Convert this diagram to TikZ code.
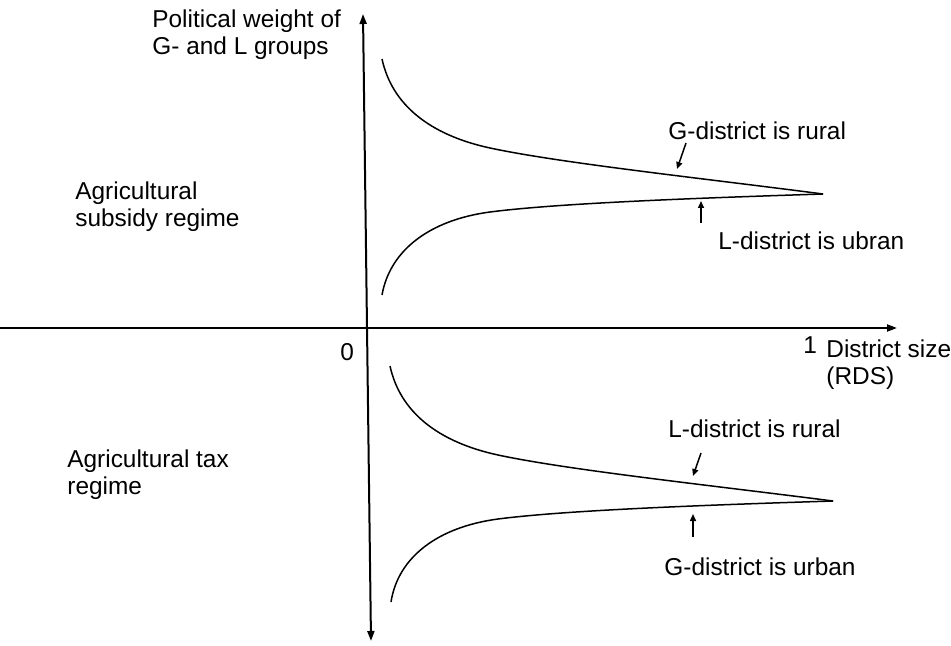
\documentclass[tikz,border=0pt]{standalone}
\usepackage{fontspec}
\setmainfont{Liberation Sans}
\usetikzlibrary{arrows.meta}
\begin{document}
\begin{tikzpicture}[x=0.5pt, y=-0.5pt,
  axis/.style={line width=1pt, -{Triangle[length=5pt,width=3.5pt]}},
  branch/.style={line width=0.75pt},
  pointer/.style={line width=0.75pt, -{Triangle[length=3.5pt,width=3pt]}},
  lbl/.style={inner sep=0pt, font=\fontsize{12.2}{13.7}\selectfont, align=left}]
\useasboundingbox (0,0) rectangle (951,646);

% axes
\coordinate (ybot) at (371,641);
\coordinate (ytop) at (363,14);
\coordinate (xleft) at (0,328);
\coordinate (xright) at (897,328);
\draw [axis, {Triangle[length=5pt,width=3.5pt]}-{Triangle[length=5pt,width=3.5pt]}] (ybot) -- (ytop);
\draw [axis] (xleft) -- (xright);

% subsidy regime branches
\draw [branch] (382,59) .. controls (392,105) and (430,135) .. (490,148)
  .. controls (560,163) and (700,178) .. (823,194);
\draw [branch] (382,295) .. controls (390,250) and (430,220) .. (490,212)
  .. controls (560,203) and (700,198) .. (823,194);

% tax regime branches
\draw [branch] (390,366) .. controls (400,412) and (438,442) .. (498,455)
  .. controls (568,470) and (708,485) .. (833,501);
\draw [branch] (391,602) .. controls (398,557) and (438,527) .. (498,519)
  .. controls (568,510) and (708,505) .. (833,501);

% labels
\node [lbl, anchor=north west] (ylabel) at (152,9.5) {Political weight of\\G- and L groups};
\node [lbl, anchor=north west] (subsidy) at (75,181.5) {Agricultural\\subsidy regime};
\node [lbl, anchor=north west] (tax) at (67,449.5) {Agricultural tax\\regime};
\node [lbl, anchor=base west] (zero) at (340,360) {0};
\node [lbl, anchor=base west] (one) at (803,353) {1};
\node [lbl, anchor=north west] (xlabel) at (826,339.5) {District size\\(RDS)};
\node [lbl, anchor=base west] (grural) at (668,140) {G-district is rural};
\node [lbl, anchor=base west] (lurban) at (718,250) {L-district is ubran};
\node [lbl, anchor=base west] (lrural) at (668,437) {L-district is rural};
\node [lbl, anchor=base west] (gurban) at (664,575) {G-district is urban};

% pointers
\coordinate (grural tail) at (686,143);
\coordinate (grural tip) at (677,169);
\coordinate (lurban tail) at (701,223);
\coordinate (lurban tip) at (701,201);
\coordinate (lrural tail) at (701,453);
\coordinate (lrural tip) at (693,476);
\coordinate (gurban tail) at (693,537);
\coordinate (gurban tip) at (693,514);
\draw [pointer] (grural tail) -- (grural tip);
\draw [pointer] (lurban tail) -- (lurban tip);
\draw [pointer] (lrural tail) -- (lrural tip);
\draw [pointer] (gurban tail) -- (gurban tip);
\end{tikzpicture}
\end{document}
